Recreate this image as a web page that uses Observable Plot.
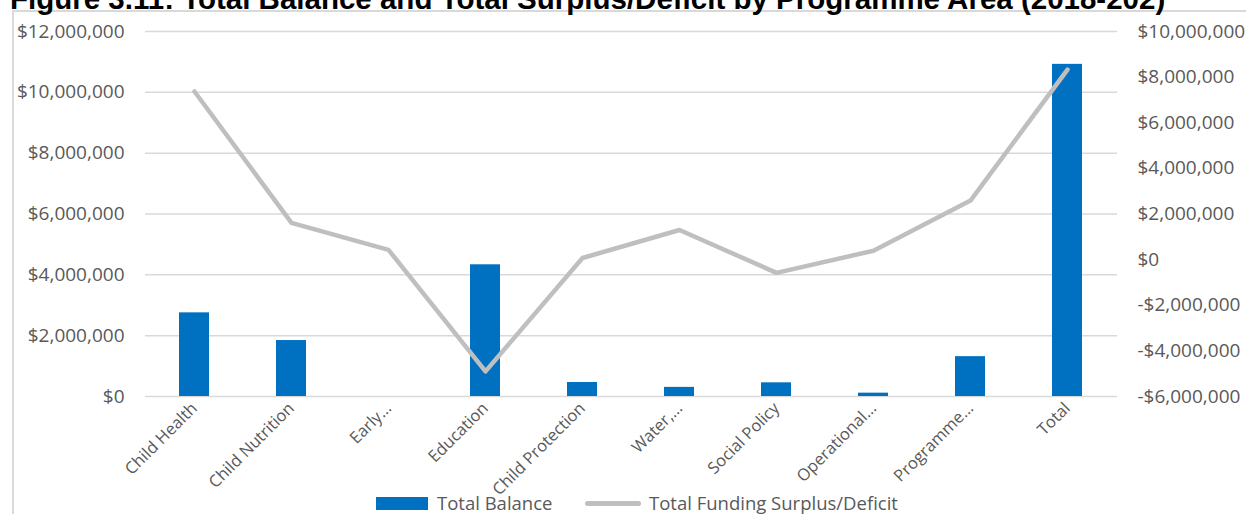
<!DOCTYPE html>
<html>
<head>
<meta charset="utf-8">
<script src="https://cdn.jsdelivr.net/npm/d3@7"></script>
<script src="https://cdn.jsdelivr.net/npm/@observablehq/plot@0.6"></script>
<style>
  html, body { margin: 0; padding: 0; background: #fff; }
  #wrap { position: relative; width: 1246px; height: 514px; overflow: hidden; background: #fff; }
  #title { position: absolute; left: 10px; top: -16px; font-family: "Liberation Sans", Arial, sans-serif; font-weight: bold; font-size: 29.5px; line-height: 1; color: #000; white-space: nowrap; }
  #chart { position: absolute; left: 0; top: 0; }
  .bl { position: absolute; left: 12px; top: 11px; width: 2px; height: 503px; background: #d9d9d9; }
  .bt { position: absolute; left: 12px; top: 10px; width: 1234px; height: 2px; background: #d9d9d9; }
  .leg { position: absolute; font-family: "Open Sans", sans-serif; font-size: 18.5px; line-height: 1; color: #595959; white-space: nowrap; }
</style>
</head>
<body>
<div id="wrap">
  <div id="chart"></div>
  <div class="bl"></div>
  <div class="bt"></div>
  <div id="title">Figure 3.11: Total Balance and Total Surplus/Deficit by Programme Area (2018-202)</div>
  <div id="legend"></div>
</div>
<script>
const categories = ["Child Health", "Child Nutrition", "Early…", "Education", "Child Protection", "Water,…", "Social Policy", "Operational…", "Programme…", "Total"];
const totalBalance = [2750000, 1840000, 0, 4330000, 460000, 300000, 450000, 110000, 1310000, 10920000];
const surplusDeficit = [7370000, 1610000, 430000, -4900000, 70000, 1300000, -580000, 390000, 2590000, 8330000];
const leftTicks = [0, 2000000, 4000000, 6000000, 8000000, 10000000, 12000000];
const rightTicks = [-6000000, -4000000, -2000000, 0, 2000000, 4000000, 6000000, 8000000, 10000000];
const seriesNames = ["Total Balance", "Total Funding Surplus/Deficit"];

const leftDomain = [0, 12000000];
const rightDomain = [-6000000, 10000000];
const k = (leftDomain[1] - leftDomain[0]) / (rightDomain[1] - rightDomain[0]);
const toLeft = v => leftDomain[0] + (v - rightDomain[0]) * k;
const fromLeft = v => Math.round((v - leftDomain[0]) / k + rightDomain[0]);
const money = v => (v < 0 ? "-$" : "$") + d3.format(",")(Math.abs(v));

const bars = categories.map((c, i) => ({cat: c, value: totalBalance[i]}));
const line = categories.map((c, i) => ({cat: c, value: toLeft(surplusDeficit[i])}));

const chart = Plot.plot({
  width: 1246,
  height: 514,
  marginLeft: 145,
  marginRight: 129,
  marginTop: 31,
  marginBottom: 118,
  style: {fontFamily: "'Open Sans', sans-serif", color: "#595959", background: "transparent"},
  x: {domain: categories, paddingInner: 0.69, paddingOuter: 0.345, label: null},
  y: {domain: leftDomain, label: null},
  marks: [
    Plot.gridY(leftTicks, {stroke: "#d9d9d9", strokeOpacity: 1, strokeWidth: 1.5}),
    Plot.barY(bars, {x: "cat", y: "value", fill: "#0070c0"}),
    Plot.line(line, {x: "cat", y: "value", stroke: "#bfbfbf", strokeWidth: 4.5, strokeLinejoin: "round", strokeLinecap: "round"}),
    Plot.axisY(leftTicks, {anchor: "left", tickSize: 0, tickPadding: 21, tickFormat: money, fontSize: 19, fill: "#595959", label: null}),
    Plot.axisY(rightTicks.map(toLeft), {anchor: "right", tickSize: 0, tickPadding: 20, tickFormat: d => money(fromLeft(d)), fontSize: 19, fill: "#595959", label: null}),
    Plot.axisX({tickSize: 0, tickPadding: 9, tickRotate: -45, fontSize: 16.5, fill: "#595959", label: null})
  ]
});
document.getElementById("chart").appendChild(chart);

const legend = document.getElementById("legend");
legend.innerHTML = `
  <div style="position:absolute;left:376px;top:497px;width:52px;height:13px;background:#0070c0"></div>
  <div class="leg" style="left:437px;top:493.6px">${seriesNames[0]}</div>
  <div style="position:absolute;left:585px;top:501px;width:56px;height:5px;border-radius:3px;background:#bfbfbf"></div>
  <div class="leg" style="left:649px;top:493.6px">${seriesNames[1]}</div>
`;
</script>
</body>
</html>
